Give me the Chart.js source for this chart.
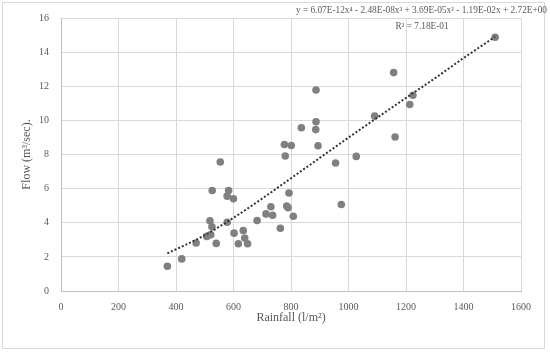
<!DOCTYPE html>
<html>
<head>
<meta charset="utf-8">
<title>Rainfall vs Flow</title>
<script src="https://cdn.jsdelivr.net/npm/chart.js@4/dist/chart.umd.min.js"></script>
<style>
    body { margin: 0; background: #fff; }
    #wrap { width: 550px; height: 352px; position: relative; }
</style>
</head>
<body>
<div id="wrap"><canvas id="flowChart" width="550" height="352"></canvas></div>
<script>
// Dữ liệu: lượng mưa (l/m2) và lưu lượng (m3/sec)
const rainfall = [370, 420, 470, 507, 521, 518, 525, 540, 526, 554, 578, 583, 578, 600, 602,
    617, 634, 639, 649, 682, 713, 730, 736, 763, 777, 801, 780, 793, 785, 790, 808,
    894, 955, 975, 1510, 1157, 887, 1224, 1213, 1091, 887, 886, 836, 1162, 1027];
const flow = [1.45, 1.88, 2.81, 3.2, 3.3, 4.11, 3.76, 2.79, 5.89, 7.56, 4.03, 5.89, 5.56, 5.41, 3.39,
    2.77, 3.55, 3.1, 2.77, 4.13, 4.52, 4.94, 4.44, 3.68, 8.59, 8.53, 7.91, 5.74, 4.98, 4.88, 4.38,
    8.51, 7.5, 5.07, 14.87, 12.8, 11.78, 11.47, 10.93, 10.25, 9.92, 9.46, 9.57, 9.03, 7.89];

// Đường xu hướng (đọc theo đường chấm trên hình)
const trendX = [370, 500, 600, 700, 800, 900, 1000, 1100, 1200, 1300, 1400, 1510];
const trendY = [2.2, 3.27, 4.29, 5.42, 6.61, 7.8, 8.99, 10.16, 11.32, 12.46, 13.65, 14.9];

// Nhãn phương trình
const equationText = 'y = 6.07E-12x\u2074 - 2.48E-08x\u00b3 + 3.69E-05x\u00b2 - 1.19E-02x + 2.72E+00';
const r2Text = 'R\u00b2 = 7.18E-01';

const fontFamily = '"Liberation Serif", "DejaVu Serif", serif';
const textColor = '#595959';

// Khung viền và phương trình
const framePlugin = {
    id: 'frame',
    afterDraw(chart) {
        const ctx = chart.ctx;
        ctx.save();
        ctx.strokeStyle = '#d9d9d9';
        ctx.lineWidth = 1;
        ctx.strokeRect(2.5, 2.5, 542, 346);
        ctx.fillStyle = textColor;
        ctx.font = '9.3px ' + fontFamily;
        ctx.textAlign = 'right';
        ctx.textBaseline = 'middle';
        ctx.fillText(equationText, 547, 11);
        ctx.textAlign = 'center';
        ctx.fillText(r2Text, 422, 27);
        ctx.restore();
    }
};

const ctx = document.getElementById('flowChart').getContext('2d');
const flowChart = new Chart(ctx, {
    type: 'scatter',
    data: {
        datasets: [{
            label: 'Flow',
            data: rainfall.map((x, i) => ({ x: x, y: flow[i] })),
            backgroundColor: '#808080',
            borderColor: '#808080',
            pointRadius: 3.8,
            borderWidth: 0,
            order: 2
        }, {
            type: 'line',
            label: 'Trend',
            data: trendX.map((x, i) => ({ x: x, y: trendY[i] })),
            borderColor: '#333333',
            borderWidth: 2,
            borderDash: [2, 2],
            pointRadius: 0,
            fill: false,
            cubicInterpolationMode: 'monotone',
            order: 1
        }]
    },
    options: {
        responsive: false,
        animation: false,
        layout: {
            padding: { left: 0, right: 29, top: 16, bottom: 0 }
        },
        plugins: {
            legend: { display: false },
            tooltip: { enabled: false }
        },
        scales: {
            x: {
                type: 'linear',
                min: 0,
                max: 1600,
                ticks: {
                    stepSize: 200,
                    padding: 10,
                    color: textColor,
                    font: { family: fontFamily, size: 10 },
                    callback: v => String(v)
                },
                grid: { color: '#d9d9d9', drawTicks: false },
                border: { color: '#bfbfbf' },
                title: {
                    display: true,
                    text: 'Rainfall (l/m\u00b2)',
                    color: textColor,
                    font: { family: fontFamily, size: 12 },
                    padding: { top: 0, bottom: 27 }
                },
                afterFit(scale) {
                    scale.height = 61;
                }
            },
            y: {
                min: 0,
                max: 16,
                ticks: {
                    stepSize: 2,
                    padding: 12,
                    color: textColor,
                    font: { family: fontFamily, size: 10 },
                    callback: v => String(v)
                },
                grid: { color: '#d9d9d9', drawTicks: false },
                border: { color: '#bfbfbf' },
                title: {
                    display: true,
                    text: 'Flow (m\u00b3/sec).',
                    color: textColor,
                    font: { family: fontFamily, size: 12 },
                    padding: { top: 20, bottom: 0 }
                },
                afterFit(scale) {
                    scale.width = 61;
                }
            }
        }
    },
    plugins: [framePlugin]
});
</script>
</body>
</html>
